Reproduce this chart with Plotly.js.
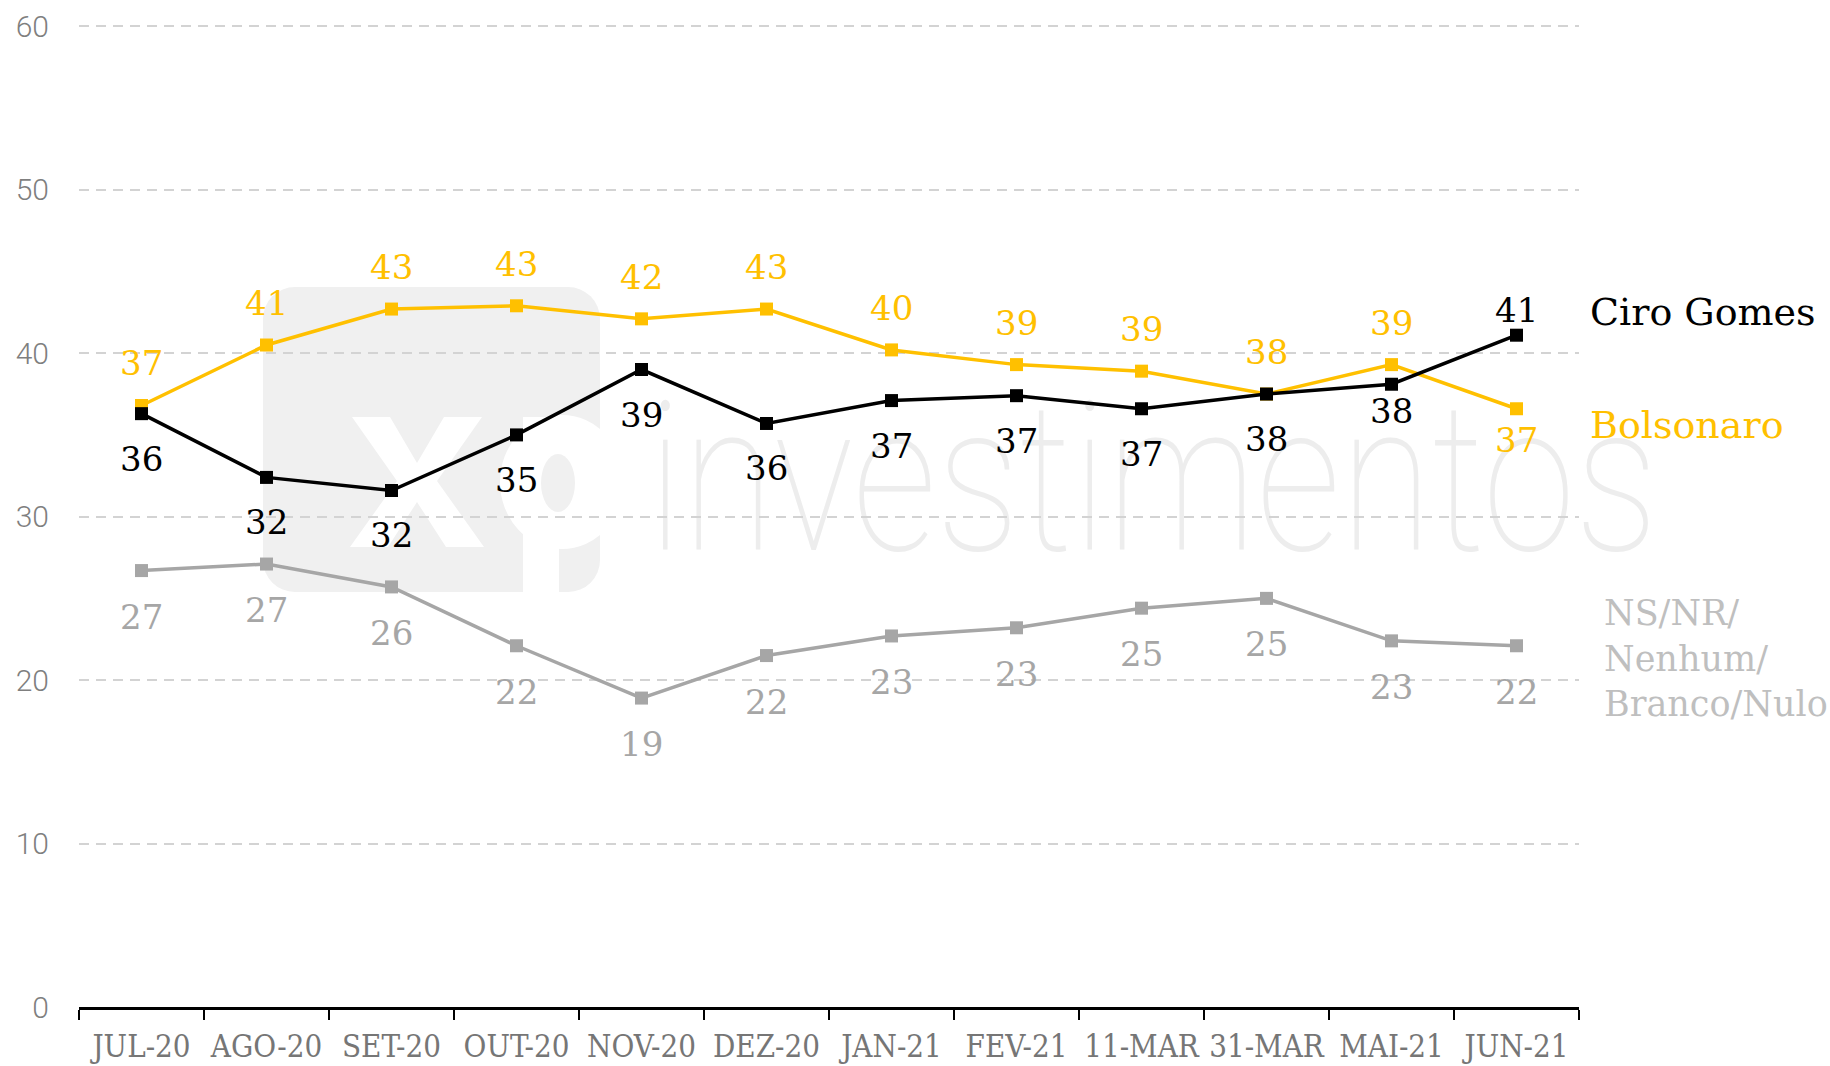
<!DOCTYPE html>
<html>
<head>
<meta charset="utf-8">
<script src="https://cdn.plot.ly/plotly-3.0.1.min.js"></script>
<style>html,body{margin:0;padding:0;background:#fff;}#chart{width:1830px;height:1066px;}</style>
</head>
<body>
<div id="chart"></div>
<script>
// ---- data ----
const categories = ["JUL-20","AGO-20","SET-20","OUT-20","NOV-20","DEZ-20","JAN-21","FEV-21","11-MAR","31-MAR","MAI-21","JUN-21"];
const bolsonaro = [36.8, 40.5, 42.7, 42.9, 42.1, 42.7, 40.2, 39.3, 38.9, 37.5, 39.3, 36.6];
const ciro      = [36.3, 32.4, 31.6, 35.0, 39.0, 35.7, 37.1, 37.4, 36.6, 37.5, 38.1, 41.1];
const nsnr      = [26.7, 27.1, 25.7, 22.1, 18.9, 21.5, 22.7, 23.2, 24.4, 25.0, 22.4, 22.1];
const bolsonaroLabels = ["37","41","43","43","42","43","40","39","39","38","39","37"];
const ciroLabels      = ["36","32","32","35","39","36","37","37","37","38","38","41"];
const nsnrLabels      = ["27","27","26","22","19","22","23","23","25","25","23","22"];
const yTicks = [0, 10, 20, 30, 40, 50, 60];
const seriesNames = ["Ciro Gomes", "Bolsonaro", "NS/NR/<br>Nenhum/<br>Branco/Nulo"];

// ---- style ----
const YELLOW = "#FFC000", BLACK = "#000000", GRAY = "#A6A6A6";
const SERIF = "DejaVu Serif";
const SERIF_COND = "'DejaVu Serif Condensed', 'DejaVu Serif', serif";
// label offsets in pixels (positive = above the marker)
const shiftBolso = categories.map((c, i) => i === categories.length - 1 ? -31 : 42);
const shiftCiro  = categories.map((c, i) => i === categories.length - 1 ? 25 : (i === categories.length - 2 ? -27 : -45));
const shiftNs    = categories.map(() => -46);

function lineTrace(y, color) {
  return {
    x: categories, y: y, type: "scatter", mode: "lines+markers",
    line: {color: color, width: 3.5},
    marker: {symbol: "square", size: 13, color: color},
    hoverinfo: "skip", showlegend: false, cliponaxis: false
  };
}

function labels(y, text, shifts, color) {
  return y.map((v, i) => ({
    x: categories[i], y: v, xref: "x", yref: "y", text: text[i],
    yshift: shifts[i], showarrow: false, xanchor: "center", yanchor: "middle",
    font: {family: SERIF, size: 34, color: color}
  }));
}

// watermark (xp investimentos); svg origin sits at page pixel (262, 280)
const wm = {left: 262, top: 280, w: 1420, h: 330};
const WMG = "#F0F0F0";
const wmSvg = "<svg xmlns='http://www.w3.org/2000/svg' width='1420' height='330' viewBox='0 0 1420 330'>" +
  "<defs><clipPath id='c'><rect x='1' y='7' width='337' height='305' rx='32'/></clipPath></defs>" +
  "<rect x='1' y='7' width='337' height='305' rx='32' fill='" + WMG + "'/>" +
  "<g clip-path='url(#c)' fill='#FFFFFF'>" +
  "<path d='M90,137 L128,137 L155,183 L182,137 L220,137 L175,201 L222,267 L184,267 L155,222 L126,267 L88,267 L135,201 Z'/>" +
  "<rect x='261' y='137' width='36' height='190'/>" +
  "<ellipse cx='300' cy='202' rx='62' ry='67'/>" +
  "<ellipse cx='296' cy='203' rx='17' ry='29' fill='" + WMG + "'/>" +
  "</g>" +
  "<text x='386' y='270' font-family='Roboto' font-weight='100' font-size='208' fill='#EDEDED' textLength='1010' lengthAdjust='spacingAndGlyphs'>investimentos</text>" +
  "</svg>";

const M = {l: 79, r: 251, t: 23, b: 59};
const W = 1830, H = 1066;
const pw = W - M.l - M.r, ph = H - M.t - M.b;
const px = x => (x - M.l) / pw;
const py = y => (H - M.b - y) / ph;

const annotations = []
  .concat(labels(nsnr, nsnrLabels, shiftNs, GRAY))
  .concat(labels(bolsonaro, bolsonaroLabels, shiftBolso, YELLOW))
  .concat(labels(ciro, ciroLabels, shiftCiro, BLACK))
  .concat([
    {xref: "paper", yref: "paper", x: px(1588), y: py(312), xanchor: "left", yanchor: "middle",
     text: seriesNames[0], showarrow: false, font: {family: SERIF, size: 38, color: BLACK}},
    {xref: "paper", yref: "paper", x: px(1588), y: py(425), xanchor: "left", yanchor: "middle",
     text: seriesNames[1], showarrow: false, font: {family: SERIF, size: 38, color: YELLOW}},
    {xref: "paper", yref: "paper", x: px(1602), y: py(658), xanchor: "left", yanchor: "middle", align: "left",
     text: seriesNames[2], showarrow: false, font: {family: SERIF, size: 35, color: "#BFBFBF"}}
  ]);

const layout = {
  width: W, height: H, margin: M,
  paper_bgcolor: "#FFFFFF", plot_bgcolor: "rgba(0,0,0,0)",
  showlegend: false,
  xaxis: {
    type: "category", categoryarray: categories, range: [-0.5, categories.length - 0.5],
    showline: true, linecolor: BLACK, linewidth: 2.5,
    ticks: "outside", tickson: "boundaries", ticklen: 10, tickwidth: 2, tickcolor: BLACK,
    tickangle: 0, ticklabelstandoff: 10,
    tickfont: {family: SERIF_COND, size: 31, color: "#767676"},
    showgrid: false, zeroline: false, fixedrange: true
  },
  yaxis: {
    range: [0, 60.2], tickvals: yTicks, ticktext: yTicks.map(String),
    showgrid: true, gridcolor: "#D3D3D3", gridwidth: 2, griddash: "10px,7px",
    zeroline: false, showline: false, ticks: "",
    tickfont: {family: "Roboto", size: 30, color: "#7F7F7F", weight: 300},
    ticklabelstandoff: 29, fixedrange: true
  },
  images: [{
    source: "data:image/svg+xml;charset=utf-8," + encodeURIComponent(wmSvg),
    xref: "paper", yref: "paper", x: px(wm.left), y: py(wm.top),
    sizex: wm.w / pw, sizey: wm.h / ph, xanchor: "left", yanchor: "top",
    sizing: "stretch", layer: "below"
  }],
  annotations: annotations
};

Plotly.newPlot("chart", [lineTrace(nsnr, GRAY), lineTrace(bolsonaro, YELLOW), lineTrace(ciro, BLACK)], layout,
  {displayModeBar: false, staticPlot: true});
</script>
</body>
</html>
